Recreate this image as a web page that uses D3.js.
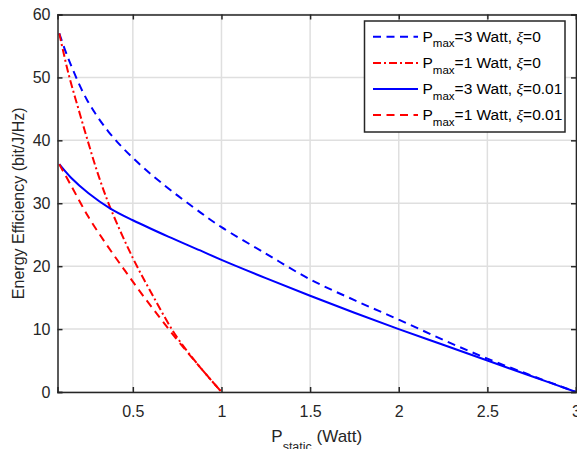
<!DOCTYPE html>
<html><head><meta charset="utf-8">
<script src="https://cdn.jsdelivr.net/npm/d3@7"></script>
<style>body{margin:0;background:#fff;} svg{display:block;} text{font-family:"Liberation Sans",Arial,sans-serif;}</style>
</head><body>
<svg id="chart" width="577" height="449"></svg>
<script>
// ---- data ----
const xTicks = [0.5, 1, 1.5, 2, 2.5, 3];
const yTicks = [0, 10, 20, 30, 40, 50, 60];

const p3x0_x = [0.085, 0.136, 0.24, 0.362, 0.493, 0.663, 0.888, 1.0, 1.25, 1.5, 1.75, 2.0, 2.25, 2.5, 2.75, 3.0];
const p3x0_y = [57.0, 53.0, 46.5, 41.4, 37.4, 33.2, 28.4, 26.2, 22.0, 17.9, 14.6, 11.5, 8.3, 5.3, 2.6, 0];

const p1x0_x = [0.085, 0.136, 0.192, 0.249, 0.305, 0.374, 0.5, 0.615, 0.742, 0.86, 1.0];
const p1x0_y = [57.0, 50.7, 45.1, 39.6, 34.5, 29.2, 21.3, 15.2, 9.0, 4.6, 0];

const p3x1_x = [0.085, 0.15, 0.25, 0.371, 0.5, 0.7, 0.88, 1.0, 1.25, 1.5, 1.75, 2.0, 2.25, 2.5, 2.75, 3.0];
const p3x1_y = [36.2, 34.1, 31.6, 29.2, 27.3, 24.7, 22.5, 21.0, 18.1, 15.3, 12.6, 10.0, 7.5, 5.0, 2.5, 0];

const p1x1_x = [0.085, 0.15, 0.25, 0.35, 0.45, 0.55, 0.65, 0.75, 0.85, 1.0];
const p1x1_y = [36.2, 32.9, 27.8, 23.5, 19.5, 15.6, 11.9, 8.3, 4.9, 0];

const seriesNames = ["=3 Watt, ", "=1 Watt, ", "=3 Watt, ", "=1 Watt, "];
const seriesXi = ["=0", "=0", "=0.01", "=0.01"];

// ---- layout ----
const svg = d3.select("#chart");
const L = 57.5, R = 576, T = 14.5, B = 392;
const x = d3.scaleLinear().domain([0.075, 3]).range([L, R]);
const y = d3.scaleLinear().domain([0, 60]).range([B, T]);
const axisCol = "#262626";

// grid
const g = svg.append("g");
g.selectAll(".gx").data(xTicks).enter().append("line")
  .attr("x1", d => x(d)).attr("x2", d => x(d)).attr("y1", T).attr("y2", B)
  .attr("stroke", "#dfdfdf").attr("stroke-width", 1.5);
g.selectAll(".gy").data(yTicks).enter().append("line")
  .attr("x1", L).attr("x2", R).attr("y1", d => y(d)).attr("y2", d => y(d))
  .attr("stroke", "#dfdfdf").attr("stroke-width", 1.5);

// curves
const line = d3.line().x(d => x(d[0])).y(d => y(d[1])).curve(d3.curveCatmullRom.alpha(0.5));
const zip = (a, b) => a.map((v, i) => [v, b[i]]);
const series = [
  {pts: zip(p3x0_x, p3x0_y), color: "#0000ff", dash: "8,5.5"},
  {pts: zip(p1x0_x, p1x0_y), color: "#ff0000", dash: "8,3,2,3"},
  {pts: zip(p3x1_x, p3x1_y), color: "#0000ff", dash: null},
  {pts: zip(p1x1_x, p1x1_y), color: "#ff0000", dash: "8,5.5"}
];
svg.append("clipPath").attr("id", "pc").append("rect")
  .attr("x", L).attr("y", T).attr("width", R - L + 2).attr("height", B - T + 2);
const cg = svg.append("g").attr("clip-path", "url(#pc)");
series.forEach(s => {
  cg.append("path").attr("d", line(s.pts)).attr("fill", "none")
    .attr("stroke", s.color).attr("stroke-width", 2)
    .attr("stroke-dasharray", s.dash);
});

// axes
const xAxis = d3.axisBottom(x).tickValues(xTicks).tickSize(-5).tickPadding(14).tickFormat(d3.format("~g"));
const yAxis = d3.axisLeft(y).tickValues(yTicks).tickSize(-5).tickPadding(7);
const xa = svg.append("g").attr("transform", `translate(0,${B})`).call(xAxis);
const ya = svg.append("g").attr("transform", `translate(${L},0)`).call(yAxis);
const xt = svg.append("g").attr("transform", `translate(0,${T})`).call(d3.axisTop(x).tickValues(xTicks).tickSize(-5).tickFormat(""));
const yr = svg.append("g").attr("transform", `translate(${R},0)`).call(d3.axisRight(y).tickValues(yTicks).tickSize(-5).tickFormat(""));
[xa, ya, xt, yr].forEach(a => {
  a.select(".domain").attr("stroke", axisCol).attr("stroke-width", 1.5);
  a.selectAll(".tick line").attr("stroke", axisCol).attr("stroke-width", 1.5);
  a.selectAll(".tick text").attr("fill", axisCol).attr("font-size", 16)
    .attr("font-family", "'Liberation Sans', Arial, sans-serif");
});

// axis labels
const xl = svg.append("text").attr("x", (L + R) / 2).attr("y", 441.7).attr("text-anchor", "middle")
  .attr("fill", axisCol).attr("font-size", 17);
xl.append("tspan").text("P");
xl.append("tspan").attr("font-size", 12.5).attr("dy", 9).text("static");
xl.append("tspan").attr("dy", -9).text(" (Watt)");

svg.append("text").attr("transform", `translate(24,${(T + B) / 2}) rotate(-90)`)
  .attr("text-anchor", "middle").attr("fill", axisCol).attr("font-size", 16)
  .text("Energy Efficiency (bit/J/Hz)");

// legend
const lgX = 364.5, lgY = 21, lgW = 200.5, lgH = 111;
const lg = svg.append("g");
lg.append("rect").attr("x", lgX).attr("y", lgY).attr("width", lgW).attr("height", lgH)
  .attr("fill", "#fff").attr("stroke", axisCol).attr("stroke-width", 1.5);
const rowY = [36.7, 63, 89, 115];
series.forEach((s, i) => {
  lg.append("line").attr("x1", 373).attr("x2", 418).attr("y1", rowY[i]).attr("y2", rowY[i])
    .attr("stroke", s.color).attr("stroke-width", 2).attr("stroke-dasharray", s.dash);
  const t = lg.append("text").attr("x", 422.5).attr("y", rowY[i] + 5).attr("fill", "#000").attr("font-size", 15.5);
  t.append("tspan").text("P");
  t.append("tspan").attr("font-size", 11.5).attr("dy", 5.5).text("max");
  t.append("tspan").attr("dy", -5.5).text(seriesNames[i]);
  t.append("tspan").attr("font-style", "italic").attr("font-family", "'Liberation Serif','DejaVu Serif',serif").text("ξ");
  t.append("tspan").text(seriesXi[i]);
});
</script>
</body></html>
